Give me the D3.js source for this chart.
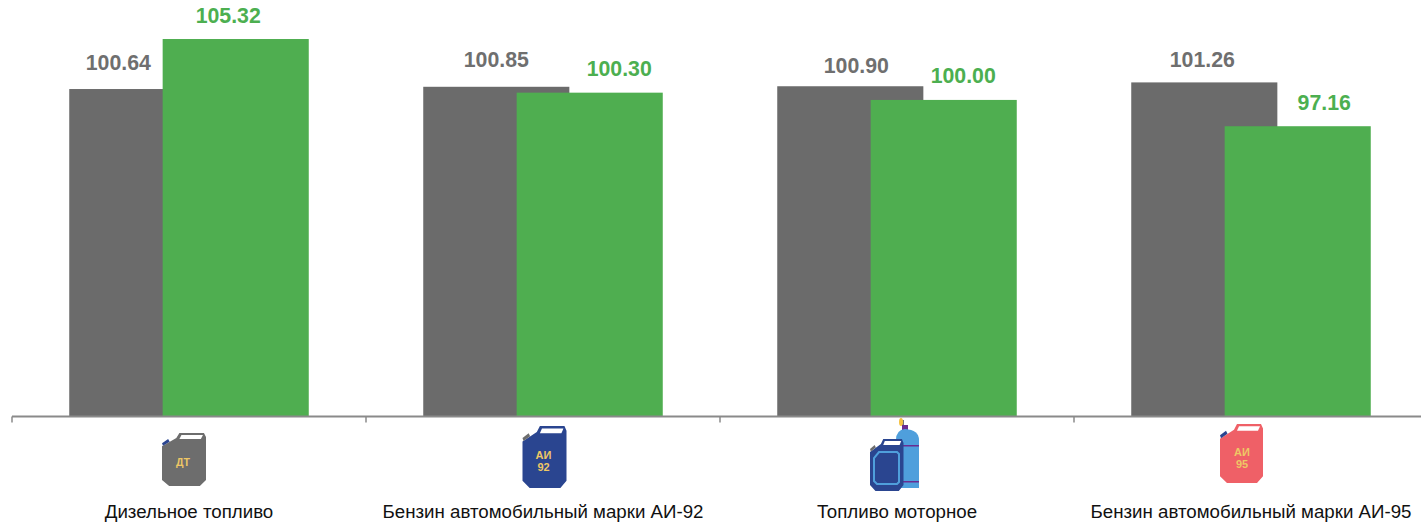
<!DOCTYPE html>
<html>
<head>
<meta charset="utf-8">
<script src="https://cdn.jsdelivr.net/npm/d3@7"></script>
<style>
  html, body { margin: 0; padding: 0; background: #fff; }
  svg { display: block; font-family: "Liberation Sans", Arial, sans-serif; }
</style>
</head>
<body>
<div id="chart"></div>
<script>
// Data
var categories = ["Дизельное топливо", "Бензин автомобильный марки АИ-92", "Топливо моторное", "Бензин автомобильный марки АИ-95"];
var seriesNames = ["gray", "green"];
var grayValues = [100.64, 100.85, 100.90, 101.26];
var greenValues = [105.32, 100.30, 99.62, 97.16];
// the 100.00 bar is drawn a little lower than its label says in the source
var greenLabels = ["105.32", "100.30", "100.00", "97.16"];

var svgWidth = 1421;
var svgHeight = 523;
var colors = { gray: "#6b6b6b", green: "#4fae50" };
var labelColors = { gray: "#6f6f6f", green: "#4caf50" };

// Hand placed value labels, the source moved them away from the bar centres
var labelShift = {
  gray: [[-24, -19], [0, -19.5], [6, -13.5], [-2, -15.5]],
  green: [[-7.5, -16], [29.5, -16.5], [19.5, -16.5], [26.5, -16]]
};

var svg = d3.select("#chart")
  .append("svg")
  .attr("width", svgWidth)
  .attr("height", svgHeight);

var x0 = d3.scaleBand()
  .domain(categories)
  .range([12, 1428])
  .paddingInner(0.3234)
  .paddingOuter(0.1617);

var barWidth = x0.bandwidth() * 0.61;

// green bar overlaps the gray one
var x1 = d3.scalePoint()
  .domain(seriesNames)
  .range([0, x0.bandwidth() - barWidth]);

var y = d3.scaleLinear()
  .domain([70, 108.97])
  .range([416.5, 0]);

var rows = [];
seriesNames.forEach(function(name) {
  var values = name === "gray" ? grayValues : greenValues;
  values.forEach(function(v, i) {
    rows.push({
      name: name,
      cat: categories[i],
      value: v,
      label: name === "gray" ? v.toFixed(2) : greenLabels[i],
      i: i
    });
  });
});

// Bars
svg.selectAll("rect.bar")
  .data(rows)
  .enter()
  .append("rect")
  .attr("class", "bar")
  .attr("x", d => x0(d.cat) + x1(d.name))
  .attr("y", d => y(d.value))
  .attr("width", barWidth)
  .attr("height", d => y(70) - y(d.value))
  .attr("fill", d => colors[d.name]);

// Value labels
svg.selectAll("text.value")
  .data(rows)
  .enter()
  .append("text")
  .attr("class", "value")
  .attr("x", d => x0(d.cat) + x1(d.name) + barWidth / 2 + labelShift[d.name][d.i][0])
  .attr("y", d => y(d.value) + labelShift[d.name][d.i][1])
  .attr("text-anchor", "middle")
  .attr("font-weight", "bold")
  .style("font-size", "21.3px")
  .attr("fill", d => labelColors[d.name])
  .text(d => d.label);

// Axis: ticks sit on the band edges, so the tick marks are drawn by hand
var axisColor = "#8a8a8a";
var axisGroup = svg.append("g")
  .attr("transform", `translate(0, ${y(70)})`);

axisGroup.call(d3.axisBottom(x0).tickSize(0).tickPadding(88))
  .call(g => g.select(".domain").attr("stroke", axisColor).attr("stroke-width", 2).attr("d", "M12,0H1428"));

axisGroup.selectAll(".tick text")
  .attr("fill", "#111")
  .style("font-family", "\"Liberation Sans\", Arial, sans-serif")
  .style("font-size", "18.7px");

axisGroup.selectAll("line.edge")
  .data(d3.range(categories.length + 1))
  .enter()
  .append("line")
  .attr("class", "edge")
  .attr("x1", i => 12 + i * x0.step())
  .attr("x2", i => 12 + i * x0.step())
  .attr("y1", 0)
  .attr("y2", 6)
  .attr("stroke", axisColor)
  .attr("stroke-width", 1.5);

// Canister icon, unit shape is 43 x 52
var canBody = "M17,0L41,0L43,4L43,46L37,52L7,52L0,46L0,13L14,5Z";
var canHole = "M19,2L40,2L38,6L17,6Z";
var canCap = "M0,10L6,6L7.5,8.5L1,12.5Z";

function drawCan(px, py, w, h, fill, capFill) {
  var g = svg.append("g")
    .attr("transform", `translate(${px}, ${py}) scale(${w / 43}, ${h / 52})`);
  g.append("path").attr("d", canBody).attr("fill", fill);
  g.append("path").attr("d", canHole).attr("fill", "#fff");
  g.append("path").attr("d", canCap).attr("fill", capFill);
  return g;
}

function canText(px, lines, firstY, size) {
  lines.forEach(function(t, i) {
    svg.append("text")
      .attr("x", px)
      .attr("y", firstY + i * (size + 1))
      .attr("text-anchor", "middle")
      .attr("font-weight", "bold")
      .style("font-size", size + "px")
      .attr("fill", "#eec765")
      .text(t);
  });
}

var mid = categories.map(c => x0(c) + x0.bandwidth() / 2);

drawCan(mid[0] - 27, 433, 44, 53, "#6d6d6d", "#2a4590");
canText(mid[0] - 6, ["ДТ"], 466, 10.5);

drawCan(mid[1] - 20.5, 426, 44, 62, "#2a4590", "#6d6d6d");
canText(mid[1] + 0.5, ["АИ", "92"], 459, 11);

// gas bottle behind the third canister
var bottle = svg.append("g").attr("transform", `translate(${mid[2]}, 0)`);
bottle.append("rect").attr("x", 5).attr("y", 420).attr("width", 2).attr("height", 8).attr("fill", "#777");
bottle.append("ellipse").attr("cx", 4).attr("cy", 422).attr("rx", 2).attr("ry", 4).attr("fill", "#f5c242");
bottle.append("rect").attr("x", 5).attr("y", 425).attr("width", 6).attr("height", 6).attr("fill", "#6a2c91");
bottle.append("path")
  .attr("d", "M-1,488L-1,440Q-1,430 8,429Q22,430 22,440L22,488Z")
  .attr("fill", "#4f9fdc");
bottle.append("rect").attr("x", -1).attr("y", 445).attr("width", 23).attr("height", 1.5).attr("fill", "#6a2c91");
bottle.append("rect").attr("x", -1).attr("y", 481).attr("width", 23).attr("height", 1.5).attr("fill", "#6a2c91");

drawCan(mid[2] - 27, 439, 33.5, 52, "#2a4590", "#6d6d6d");
// lighter inner frame of the third canister
svg.append("path")
  .attr("transform", `translate(${mid[2] - 27}, 439)`)
  .attr("d", "M9,13L27,13L29,15L29,43L27,45L7,45L4,42L4,19Z")
  .attr("fill", "none")
  .attr("stroke", "#4f9fdc")
  .attr("stroke-width", 2);

drawCan(mid[3] - 31, 424, 43, 59, "#ef6067", "#2a4590");
canText(mid[3] - 9, ["АИ", "95"], 456, 11);
</script>
</body>
</html>
